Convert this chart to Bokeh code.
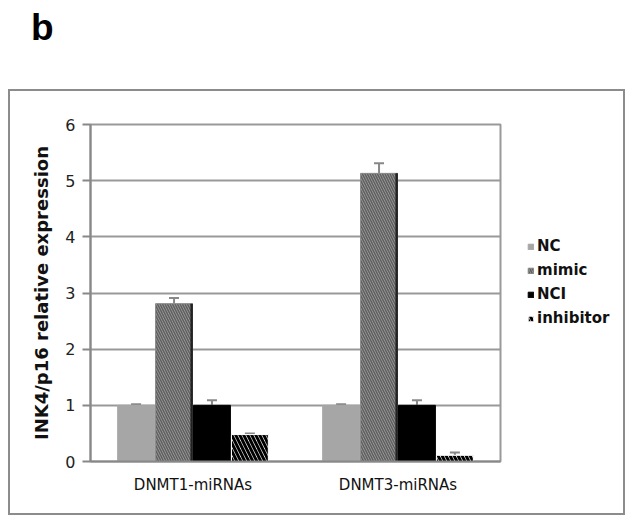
from bokeh.plotting import figure
from bokeh.models import (ColumnDataSource, FactorRange, Range1d, Whisker, Legend, LegendItem, Div)
from bokeh.layouts import column, row
from bokeh.transform import dodge
from bokeh.embed import file_html
from bokeh.resources import INLINE

groups = ["DNMT1-miRNAs", "DNMT3-miRNAs"]
series = ["NC", "mimic", "NCI", "inhibitor"]
nc = [1.0, 1.0]
mimic = [2.81, 5.13]
nci = [1.0, 1.0]
inhibitor = [0.48, 0.11]
nc_err = [0.02, 0.02]
mimic_err = [0.1, 0.18]
nci_err = [0.09, 0.09]
inhibitor_err = [0.02, 0.05]
y_ticks = [0, 1, 2, 3, 4, 5, 6]

data = dict(g=groups, NC=nc, mimic=mimic, NCI=nci, inhibitor=inhibitor)
for name, vals, errs in [("NC", nc, nc_err), ("mimic", mimic, mimic_err),
                         ("NCI", nci, nci_err), ("inhibitor", inhibitor, inhibitor_err)]:
    data[name + "_up"] = [v + e for v, e in zip(vals, errs)]
src = ColumnDataSource(data)

H = 426
p = figure(width=500, height=H, x_range=FactorRange(*groups), y_range=Range1d(0, 6),
           output_backend="svg", toolbar_location=None,
           min_border_left=82, min_border_right=8, min_border_top=35, min_border_bottom=54)
p.border_fill_color = None

offsets = [-0.2775, -0.0925, 0.0925, 0.2775]
bw = 0.18
styles = {
    "NC": dict(fill_color="#a6a6a6", line_color="#a6a6a6"),
    "mimic": dict(fill_color="#a0a0a0", line_color="#8a8a8a", hatch_pattern="\\",
                  hatch_color="#606060", hatch_scale=5, hatch_weight=1.6),
    "NCI": dict(fill_color="#000000", line_color="#000000"),
    "inhibitor": dict(fill_color="#ffffff", line_color="#ffffff", hatch_pattern="\\",
                      hatch_color="#000000", hatch_scale=8, hatch_weight=3),
}
for s, off in zip(series, offsets):
    p.vbar(x=dodge("g", off, range=p.x_range), top=s, width=bw, source=src, **styles[s])
    w = Whisker(base=dodge("g", off, range=p.x_range), upper=s + "_up", lower=s, source=src,
                line_color="#888888", line_width=2, lower_head=None)
    w.upper_head.size = 10
    w.upper_head.line_color = "#888888"
    w.upper_head.line_width = 2
    p.add_layout(w)

# dark right edge on the mimic bars
p.vbar(x=dodge("g", offsets[1] + bw / 2 - 0.004, range=p.x_range), top="mimic", width=0.012,
       source=src, fill_color="#222222", line_color=None)

# y axis
p.yaxis.ticker = y_ticks
p.yaxis.axis_label = "INK4/p16 relative expression"
p.yaxis.axis_label_text_font = "DejaVu Sans"
p.yaxis.axis_label_text_font_style = "bold"
p.yaxis.axis_label_text_font_size = "18px"
p.yaxis.axis_label_text_color = "#111111"
p.yaxis.axis_label_standoff = 10
p.yaxis.major_label_text_font = "DejaVu Sans"
p.yaxis.major_label_text_font_size = "16px"
p.yaxis.major_label_text_color = "#222222"
p.yaxis.major_label_standoff = 7
p.yaxis.major_tick_out = 8
p.yaxis.major_tick_in = 0
p.yaxis.minor_tick_line_color = None
for ax in (p.xaxis, p.yaxis):
    ax.axis_line_color = "#888888"
    ax.axis_line_width = 2
    ax.major_tick_line_color = "#888888"
    ax.major_tick_line_width = 2
p.xaxis.major_tick_out = 0
p.xaxis.major_tick_in = 0
p.xaxis.major_label_text_font = "DejaVu Sans"
p.xaxis.major_label_text_font_size = "15px"
p.xaxis.major_label_text_color = "#111111"
p.xaxis.major_label_standoff = 14

p.xgrid.grid_line_color = None
p.ygrid.grid_line_color = "#999999"
p.ygrid.grid_line_width = 2
p.outline_line_color = "#999999"
p.outline_line_width = 2

# legend panel: a separate figure to the right; its bars lie far outside its own ranges
lf = figure(width=117, height=H, x_range=FactorRange(*groups), y_range=Range1d(-1000, -999),
            output_backend="svg", toolbar_location=None,
            min_border_left=0, min_border_right=0, min_border_top=35, min_border_bottom=54)
lf.axis.visible = False
lf.grid.visible = False
lf.outline_line_color = None
lf.border_fill_color = None
lf.background_fill_color = None
items = []
for s, off in zip(series, offsets):
    r = lf.vbar(x=dodge("g", off + 10, range=lf.x_range), top=s, width=bw, source=src,
                **styles[s])
    items.append(LegendItem(label=s, renderers=[r]))
legend = Legend(items=items, location=(19, 134), glyph_width=7, glyph_height=7,
                label_standoff=3, spacing=6, label_height=17, padding=0, margin=0,
                label_text_font="DejaVu Sans", label_text_font_size="15px",
                label_text_font_style="bold", label_text_color="#111111",
                border_line_color=None, background_fill_alpha=0)
lf.add_layout(legend, "center")

body = row(p, lf, spacing=0, margin=(0, 0, 0, 8),
           styles={"box-shadow": "inset 0 0 0 2px #8c8c8c", "background-color": "#ffffff"})

head = Div(text="b", width=100, height=80, margin=(9, 0, 0, 31),
           styles={"font-family": "Liberation Sans", "font-weight": "bold",
                   "font-size": "37px", "line-height": "37px", "color": "#000000"})

layout = column(head, body, spacing=0)
open("out.html", "w").write(file_html(layout, INLINE))
